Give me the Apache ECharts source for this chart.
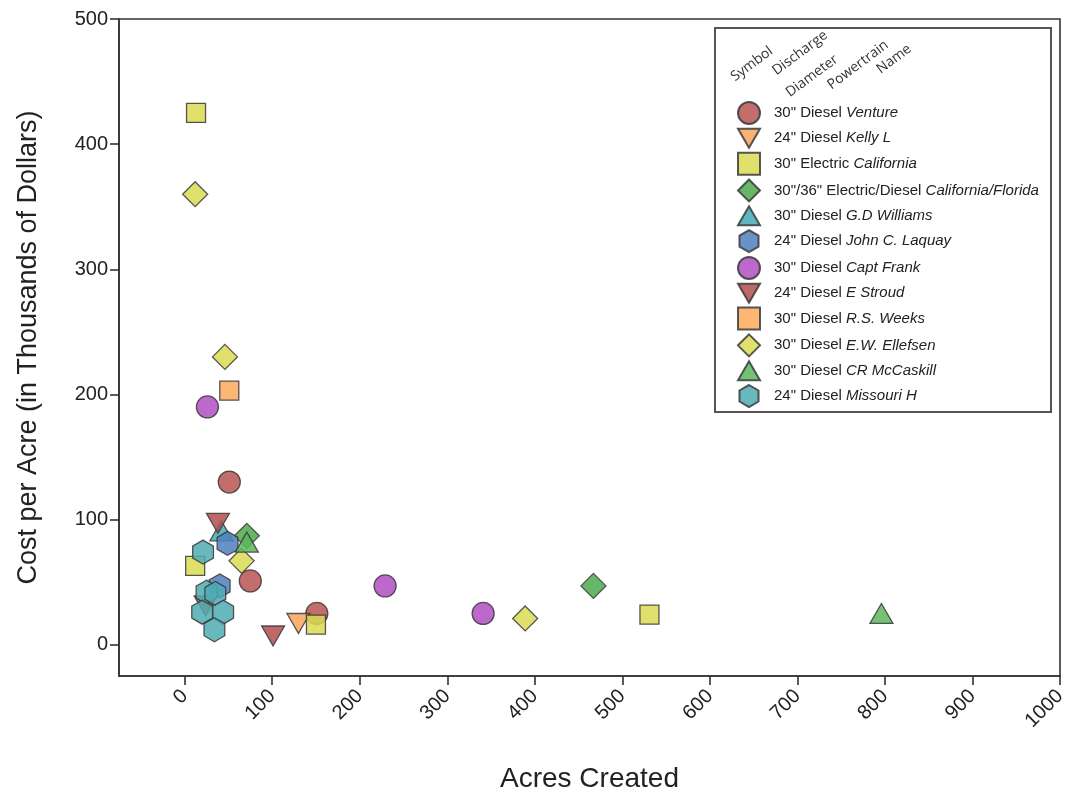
<!DOCTYPE html>
<html>
<head>
<meta charset="utf-8">
<script src="https://cdn.jsdelivr.net/npm/echarts@6/dist/echarts.min.js"></script>
<style>
html,body{margin:0;padding:0;background:#fff;}
#chart{width:1070px;height:799px;}
</style>
</head>
<body>
<div id="chart"></div>
<script>
// ---- data ----
const seriesNames = ['Venture','Kelly L','California','California/Florida','G.D Williams','John C. Laquay','Capt Frank','E Stroud','R.S. Weeks','E.W. Ellefsen','CR McCaskill','Missouri H'];
const diameters = ['30"','24"','30"','30"/36"','30"','24"','30"','24"','30"','30"','30"','24"'];
const powertrains = ['Diesel','Diesel','Electric','Electric/Diesel','Diesel','Diesel','Diesel','Diesel','Diesel','Diesel','Diesel','Diesel'];
const venture = [[51,130],[75,51],[151,25]];
const kellyL = [[130,17]];
const california = [[13,425],[12,63],[150,16],[531,24]];
const calFlorida = [[71,87],[467,47]];
const gdWilliams = [[42,91]];
const laquay = [[49,81],[40,47]];
const captFrank = [[26,190],[229,47],[341,25]];
const eStroud = [[38,97],[24,31],[101,7]];
const rsWeeks = [[51,203]];
const ellefsen = [[12,360],[46,230],[65,67],[389,21]];
const mcCaskill = [[71,82],[796,25]];
const missouriH = [[21,74],[25,42],[35,41],[20,26],[44,26],[34,12]];
const xTicks = [0,100,200,300,400,500,600,700,800,900,1000];
const yTicks = [0,100,200,300,400,500];

const seriesData = [venture,kellyL,california,calFlorida,gdWilliams,laquay,captFrank,eStroud,rsWeeks,ellefsen,mcCaskill,missouriH];

// ---- styles ----
const HEX = 'path://M5,0 L9.33,2.5 L9.33,7.5 L5,10 L0.67,7.5 L0.67,2.5 Z';
const TRI_UP = 'path://M5,0 L10,8.66 L0,8.66 Z';
const TRI_DN = 'path://M0,0 L10,0 L5,8.66 Z';
const styles = [
  {symbol:'circle', size:22, color:'#b95552'},
  {symbol:TRI_DN, size:23, color:'#f7a65c'},
  {symbol:'rect', size:19, color:'#d9dc52'},
  {symbol:'diamond', size:25, color:'#4ea94e'},
  {symbol:TRI_UP, size:23, color:'#42a9b4'},
  {symbol:HEX, size:24, color:'#4f80be'},
  {symbol:'circle', size:22, color:'#b24fc2'},
  {symbol:TRI_DN, size:23, color:'#b34f4f'},
  {symbol:'rect', size:19, color:'#fbaa5c'},
  {symbol:'diamond', size:25, color:'#d9dc52'},
  {symbol:TRI_UP, size:23, color:'#5cb85c'},
  {symbol:HEX, size:24, color:'#4fabb3'}
];

const series = seriesNames.map((n,i)=>({
  type:'scatter',
  name:n,
  data:seriesData[i],
  symbol:styles[i].symbol,
  symbolSize:styles[i].size,
  symbolKeepAspect:true,
  itemStyle:{color:styles[i].color, borderColor:'#3a3a3a', borderWidth:1.3, opacity:0.85},
  emphasis:{disabled:true},
  z:2+i*0.01
}));

const chart = echarts.init(document.getElementById('chart'), null, {renderer:'canvas'});
const FONT = 'Liberation Sans, Arial, sans-serif';
const hdr = (t,x,y)=>({type:'text', x:x, y:y, rotation:0.64, style:{text:t, fill:'#333', font:'14px "Open Sans", sans-serif', textAlign:'center', textVerticalAlign:'middle'}, z:5});

chart.setOption({
  animation:false,
  backgroundColor:'#ffffff',
  grid:{left:119, right:10, top:19, bottom:123, show:true, borderColor:'#333', borderWidth:1.6, backgroundColor:'transparent'},
  xAxis:{
    type:'value', min:-75, max:1000,
    name:'Acres Created', nameLocation:'middle', nameGap:89,
    nameTextStyle:{fontFamily:FONT, fontSize:28, color:'#222'},
    axisLine:{show:true, onZero:false, lineStyle:{color:'#333', width:1.6}},
    axisTick:{show:true, length:9, lineStyle:{color:'#333', width:1.6}, customValues:xTicks},
    axisLabel:{rotate:45, fontFamily:FONT, fontSize:20, color:'#222', margin:17, customValues:xTicks, formatter:(v)=>String(v)},
    splitLine:{show:false}
  },
  yAxis:{
    type:'value', min:-25, max:500,
    name:'Cost per Acre (in Thousands of Dollars)', nameLocation:'middle', nameGap:77,
    nameTextStyle:{fontFamily:FONT, fontSize:27, color:'#222'},
    axisLine:{show:true, onZero:false, lineStyle:{color:'#333', width:1.6}},
    axisTick:{show:true, length:9, lineStyle:{color:'#333', width:1.6}, customValues:yTicks},
    axisLabel:{fontFamily:FONT, fontSize:20, color:'#222', margin:11, customValues:yTicks},
    splitLine:{show:false}
  },
  legend:{
    orient:'vertical', left:732, top:96,
    itemWidth:22, itemHeight:22, itemGap:2.8,
    data:seriesNames,
    selectedMode:false,
    formatter:function(name){
      const i = seriesNames.indexOf(name);
      return '{a|' + diameters[i] + ' ' + powertrains[i] + ' }{b|' + name + '}';
    },
    textStyle:{
      padding:[0,0,0,9],
      rich:{
        a:{fontFamily:FONT, fontSize:15, color:'#222'},
        b:{fontFamily:FONT, fontSize:15, color:'#222', fontStyle:'italic'}
      }
    },
    z:6
  },
  graphic:[
    {type:'rect', shape:{x:715, y:28, width:336, height:384}, style:{fill:'#fff', stroke:'#555', lineWidth:2}, z:1},
    hdr('Symbol',752,64), hdr('Discharge',800,53), hdr('Diameter',812,76), hdr('Powertrain',858,65), hdr('Name',894,59)
  ],
  series:series
});
</script>
</body>
</html>
